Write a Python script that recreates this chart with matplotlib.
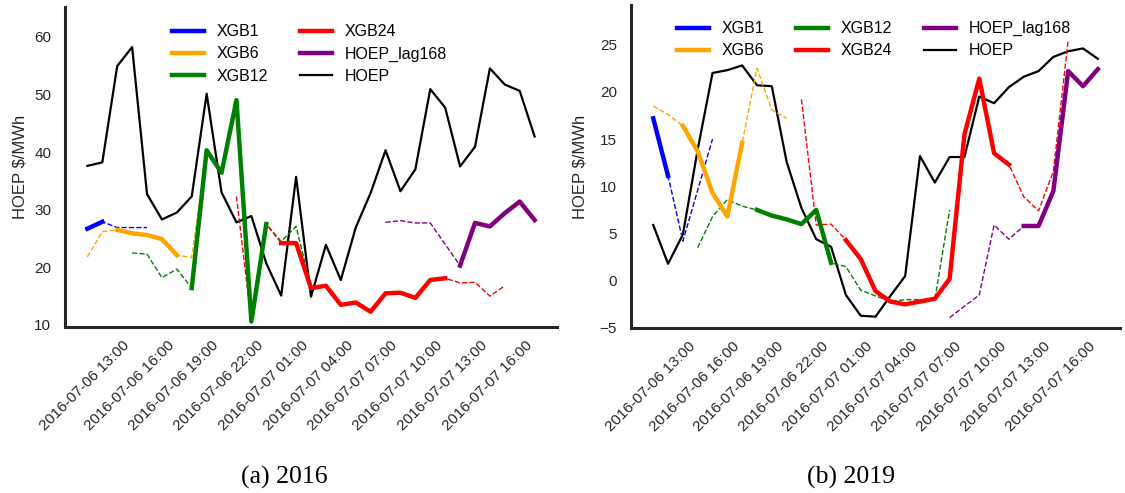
import numpy as np
import pandas as pd
import matplotlib
matplotlib.use('Agg')
import matplotlib.pyplot as plt
import matplotlib.dates as mdates

plt.rcParams['font.family'] = ['Liberation Sans', 'DejaVu Sans']

nan = np.nan

# hourly timestamps shared by both panels
hours = pd.date_range('2016-07-06 10:00', periods=31, freq='h')

# ---- 2016 panel ----
hoep_16 = [37.6, 38.2, 54.9, 58.2, 32.7, 28.3, 29.5, 32.3, 50.1, 33.0, 27.8,
           28.9, 20.7, 15.1, 35.7, 14.9, 23.9, 17.8, 26.9, 32.9, 40.3, 33.2,
           37.0, 50.9, 47.7, 37.5, 40.9, 54.5, 51.7, 50.6, 42.7]
xgb1_16 = [26.7, 27.9, 26.9, 26.9, 26.9] + [nan] * 26
xgb6_16 = [21.8, 26.2, 26.5, 25.9, 25.6, 24.9, 22.1, 21.7, 40.0] + [nan] * 22
xgb12_16 = [nan] * 3 + [22.5, 22.3, 18.2, 19.7, 16.4, 40.3, 36.4, 49.0, 10.6,
                        27.5, 24.5, 27.1, 16.5] + [nan] * 15
xgb24_16 = [nan] * 10 + [32.3, 10.6, 27.5, 24.2, 24.2, 16.4, 16.8, 13.5, 13.9,
                         12.3, 15.5, 15.6, 14.7, 17.8, 18.1, 17.3, 17.4, 15.0,
                         16.8] + [nan] * 2
lag168_16 = [nan] * 20 + [27.8, 28.1, 27.7, 27.7, 24.0, 20.3, 27.7, 27.1, 29.4,
                          31.4, 28.2]

# ---- 2019 panel ----
hoep_19 = [5.9, 1.8, 4.9, 13.9, 22.0, 22.3, 22.8, 20.7, 20.6, 12.6, 7.7, 4.4,
           3.6, -1.5, -3.7, -3.8, -1.6, 0.5, 13.2, 10.4, 13.1, 13.1, 19.5,
           18.8, 20.5, 21.6, 22.2, 23.7, 24.3, 24.6, 23.5]
xgb1_19 = [17.2, 11.1, 4.2, 9.6, 15.0] + [nan] * 26
xgb6_19 = [18.5, 17.6, 16.4, 13.7, 9.3, 6.8, 14.6, 22.5, 18.1, 17.2] + [nan] * 21
xgb12_19 = [nan] * 3 + [3.5, 6.8, 8.6, 7.9, 7.5, 6.9, 6.5, 6.0, 7.5, 1.9, 1.5,
                        -1.0, -1.6, -2.2, -2.0, -2.0, -2.0, 7.5] + [nan] * 10
xgb24_19 = [nan] * 10 + [19.2, 5.9, 6.0, 4.3, 2.3, -1.1, -2.2, -2.5, -2.2, -1.9,
                         0.2, 15.5, 21.4, 13.5, 12.3, 8.9, 7.4, 11.6, 25.5] + [nan] * 2
lag168_19 = [nan] * 20 + [-3.9, -2.7, -1.5, 5.9, 4.4, 5.8, 5.8, 9.5, 22.2,
                          20.6, 22.4]

# hours (first, last index) where each model is the one in use
names = ['XGB1', 'XGB6', 'XGB12', 'XGB24', 'HOEP_lag168']
windows = [(0, 1), (2, 6), (7, 12), (13, 24), (25, 30)]
colors = ['blue', 'orange', 'green', 'red', 'purple']


def draw_panel(ax, preds, hoep, ylim, ncol, leg_anchor, ylab_x):
    ax.plot(hours, hoep, color='black', lw=1.6, zorder=2)
    handles = []
    for name, vals, (a, b), col in zip(names, preds, windows, colors):
        vals = np.array(vals, dtype=float)
        ax.plot(hours, vals, color=col, lw=1.0, ls='--', zorder=3)
        solid = np.full(len(vals), nan)
        solid[a:b + 1] = vals[a:b + 1]
        h, = ax.plot(hours, solid, color=col, lw=3.2, zorder=4, label=name)
        handles.append(h)
    h_hoep, = ax.plot([], [], color='black', lw=1.6, label='HOEP')
    handles.append(h_hoep)

    ax.set_ylim(*ylim)
    ax.set_xticks(hours[3::3])
    ax.xaxis.set_major_formatter(mdates.DateFormatter('%Y-%m-%d %H:%M'))
    for lab in ax.get_xticklabels():
        lab.set_rotation(45)
        lab.set_ha('right')
    ax.tick_params(length=0, labelsize=11, colors='.15')
    ax.tick_params(axis='y', pad=10)
    ax.tick_params(axis='x', pad=8)
    for s in ['top', 'right']:
        ax.spines[s].set_visible(False)
    for s in ['left', 'bottom']:
        ax.spines[s].set_color('.15')
        ax.spines[s].set_linewidth(2.2)
    ax.set_ylabel('HOEP $/MWh', fontsize=12, color='.15')
    ax.yaxis.set_label_coords(ylab_x, 0.5)
    ax.legend(handles=handles, ncol=ncol, loc='upper left',
              bbox_to_anchor=leg_anchor, frameon=False, fontsize=11.5,
              borderaxespad=0, borderpad=0, labelspacing=0.45,
              columnspacing=2.0, handlelength=2.0)


fig = plt.figure(figsize=(11.25, 4.93), dpi=100)
ax1 = fig.add_axes([0.0578, 0.3367, 0.4373, 0.6491])
ax2 = fig.add_axes([0.5609, 0.3347, 0.4347, 0.6552])

draw_panel(ax1, [xgb1_16, xgb6_16, xgb12_16, xgb24_16, lag168_16], hoep_16,
           (9.65, 65.15), 2, (0.2175, 0.946), -0.077)
draw_panel(ax2, [xgb1_19, xgb6_19, xgb12_19, xgb24_19, lag168_19], hoep_19,
           (-5.0, 29.2), 3, (0.094, 0.95), -0.088)

fig.text(284 / 1125, 1 - 477 / 493, '(a) 2016', family='Liberation Serif',
         fontsize=18.5, ha='center', va='center')
fig.text(851 / 1125, 1 - 477 / 493, '(b) 2019', family='Liberation Serif',
         fontsize=18.5, ha='center', va='center')

fig.savefig('out.png', dpi=100)
